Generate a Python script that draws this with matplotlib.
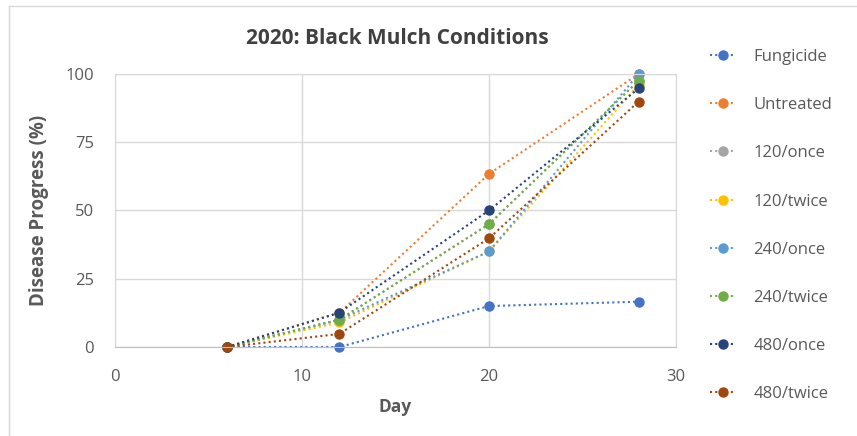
import matplotlib
matplotlib.use("Agg")
import matplotlib.pyplot as plt
from matplotlib.lines import Line2D

plt.rcParams['font.family'] = ['Open Sans', 'DejaVu Sans']

days = [6, 12, 20, 28]
series_names = ["Fungicide", "Untreated", "120/once", "120/twice",
                "240/once", "240/twice", "480/once", "480/twice"]
fungicide = [0, 0, 15, 16.6]
untreated = [0, 12.5, 63.4, 100]
c120_once = [0, 10, 45, 97.5]
c120_twice = [0, 9, 35, 96]
c240_once = [0, 10, 35, 100]
c240_twice = [0, 10, 45, 97.6]
c480_once = [0, 12.6, 50, 94.7]
c480_twice = [0, 4.8, 39.8, 89.9]
values = [fungicide, untreated, c120_once, c120_twice,
          c240_once, c240_twice, c480_once, c480_twice]
colors = ["#4472C4", "#ED7D31", "#A5A5A5", "#FFC000",
          "#5B9BD5", "#70AD47", "#264478", "#9E480E"]

x_ticks = [0, 10, 20, 30]
y_ticks = [0, 25, 50, 75, 100]

fig = plt.figure(figsize=(8.57, 4.36), dpi=100)
ax = fig.add_axes([115/857, 89/436, 561/857, 273/436])

for name, vals, col in zip(series_names, values, colors):
    ax.plot(days, vals, linestyle=(0, (1, 1.5)), linewidth=1.5, color=col,
            marker='o', markersize=6.5, markerfacecolor=col,
            markeredgecolor=col, label=name, clip_on=False)

ax.set_xlim(0, 30)
ax.set_ylim(0, 100)
ax.set_xticks(x_ticks)
ax.set_yticks(y_ticks)
ax.grid(True, color="#D9D9D9", linewidth=1)
ax.set_axisbelow(True)
for side in ["top", "right", "left"]:
    ax.spines[side].set_color("#D9D9D9")
ax.spines["bottom"].set_color("#BFBFBF")
ax.tick_params(length=0, labelsize=12, colors="#595959")
ax.tick_params(axis='y', pad=15)
ax.tick_params(axis='x', pad=16)

ax.set_xlabel("Day", fontsize=12.5, fontweight='bold', color="#595959", labelpad=9)
ax.set_ylabel("Disease Progress (%)", fontsize=13.5, fontweight='bold',
              color="#595959", labelpad=12)
fig.text(397/857, 1 - 38/436, "2020: Black Mulch Conditions", fontsize=15,
         fontweight='bold', color="#404040", ha='center', va='center')

handles = [Line2D([0], [0], linestyle=(0, (1, 1.5)), linewidth=1.5, color=c,
                  marker='o', markersize=6.5) for c in colors]
fig.legend(handles, series_names, loc='upper left',
           bbox_to_anchor=(695/857, 1 - 34/436), frameon=False,
           fontsize=12, labelcolor="#595959", labelspacing=1.93,
           handlelength=1.5, handletextpad=1.1)

# outer chart border (top and left visible)
fig.add_artist(Line2D([9/857, 1], [1 - 6/436, 1 - 6/436], color="#D9D9D9",
                      linewidth=1, transform=fig.transFigure))
fig.add_artist(Line2D([9/857, 9/857], [0, 1 - 6/436], color="#D9D9D9",
                      linewidth=1, transform=fig.transFigure))

fig.savefig("out.png", dpi=100)
